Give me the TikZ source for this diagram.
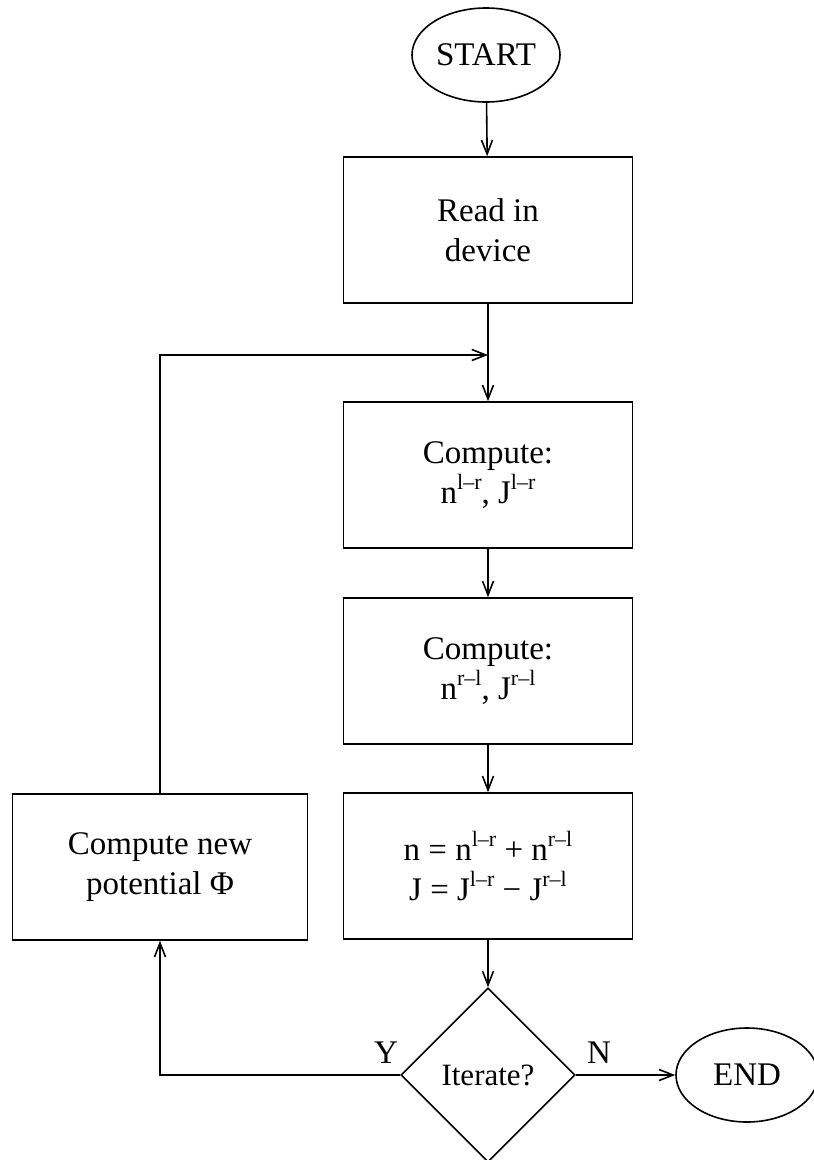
\documentclass[tikz,border=0pt]{standalone}
\usepackage{fontspec}
\setmainfont{Liberation Serif}
\usetikzlibrary{shapes.geometric,arrows.meta}
\newcommand\supr[1]{\raisebox{14pt}{\fontsize{22}{22}\selectfont #1}}
\begin{document}
\begin{tikzpicture}[x=1pt,y=-1pt,
  every node/.style={font=\fontsize{33}{40}\selectfont},
  box/.style={draw, line width=1.6pt, minimum width=289pt, minimum height=146pt, inner sep=0pt, align=center},
  term/.style={draw, ellipse, line width=1.6pt, minimum width=148pt, minimum height=94pt, inner sep=0pt},
  decision/.style={draw, diamond, line width=1.6pt, minimum width=174pt, minimum height=174pt, inner sep=0pt, font=\fontsize{31}{37}\selectfont},
  lbl/.style={inner sep=0pt},
  arr/.style={line width=1.6pt, -{Straight Barb[length=14pt,width=11pt,line width=1.6pt]}},
  ln/.style={line width=1.6pt}]
\useasboundingbox (0,0) rectangle (814,1160);
\node[term] (start) at (486,55) {START};
\node[box] (read) at (488,230) {Read in\\device};
\node[box] (clr) at (488,475) {Compute:\\n\supr{l–r}, J\supr{l–r}};
\node[box] (crl) at (488,671) {Compute:\\n\supr{r–l}, J\supr{r–l}};
\node[box] (sum) at (488,866) {n = n\supr{l–r} + n\supr{r–l}\\J = J\supr{l–r} − J\supr{r–l}};
\node[box, minimum width=295pt] (pot) at (160,867) {Compute new\\potential Φ};
\node[decision] (dec) at (488,1075) {Iterate?};
\node[term, minimum width=142pt] (end) at (747,1075) {END};
\node[lbl] (y) at (386,1053) {Y};
\node[lbl] (n) at (599,1053) {N};
\coordinate (join) at (488,355);
\draw[arr] (start) -- (read);
\draw[arr] (read) -- (clr);
\draw[arr] (clr) -- (crl);
\draw[arr] (crl) -- (sum);
\draw[arr] (sum) -- (dec);
\draw[arr] (dec.east) -- (end);
\draw[arr] (dec.west) -| (pot.south);
\draw[arr] (pot.north) |- (join);
\end{tikzpicture}
\end{document}
